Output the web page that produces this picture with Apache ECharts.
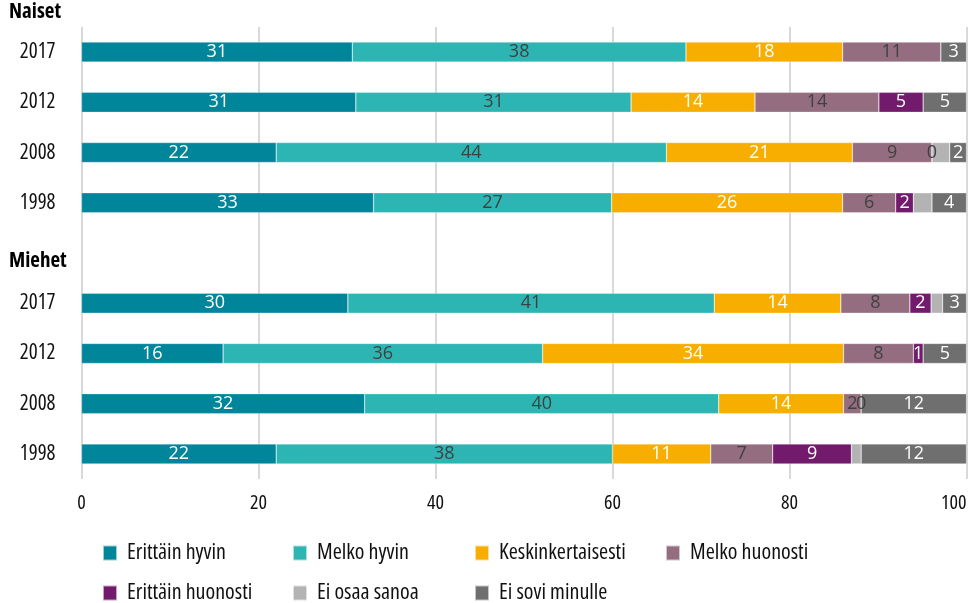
<!DOCTYPE html>
<html>
<head>
<meta charset="utf-8">
<script src="https://cdn.jsdelivr.net/npm/echarts@6/dist/echarts.min.js"></script>
<style>
    html, body { margin: 0; padding: 0; background: #fff; }
    .chart { width: 974px; height: 603px; }
</style>
</head>
<body>
<div class="chart"></div>
<script>
// vuodet, ryhmät (Naiset ylhäällä, tyhjä rivi, Miehet alhaalla)
var years = ['2017', '2012', '2008', '1998'];
var groups = ['Naiset', 'Miehet'];

// osuudet % (Naiset 2017..1998, Miehet 2017..1998)
var erittainHyvin = [30.6, 31.0, 22.0, 33.0, 30.1, 16.0, 32.0, 22.0];
var melkoHyvin = [37.7, 31.1, 44.1, 26.9, 41.4, 36.1, 40.0, 38.0];
var keskinkertaisesti = [17.7, 14.0, 21.0, 26.1, 14.3, 34.0, 14.1, 11.1];
var melkoHuonosti = [11.1, 14.0, 9.0, 6.0, 7.8, 7.9, 2.0, 7.0];
var erittainHuonosti = [null, 5.0, 0, 2.0, 2.4, 1.1, 0, 8.9];
var eiOsaaSanoa = [null, null, 2.0, 2.1, 1.3, null, null, 1.1];
var eiSoviMinulle = [2.9, 4.9, 1.9, 3.9, 2.7, 4.9, 11.9, 11.9];

var xTicks = [0, 20, 40, 60, 80, 100];

// tyhjä rivi ryhmien väliin
function withGap(arr) {
    return arr.slice(0, 4).concat([null]).concat(arr.slice(4));
}
var categories = years.concat(['']).concat(years);

// kapea fontti (Open Sans condensed)
var fontNarrow = '"Open Sans", sans-serif';
var fontLabel = '"Open Sans", sans-serif';

var myChart = echarts.init(document.querySelector('.chart'));

function makeSeries(name, arr, color, labelColor, showLabel) {
    return {
        name: name,
        type: 'bar',
        stack: 'total',
        barWidth: 20,
        itemStyle: { color: color, borderColor: 'rgba(255,255,255,0.6)', borderWidth: 0.5 },
        label: {
            show: showLabel,
            position: 'inside',
            color: labelColor,
            fontFamily: fontLabel,
            fontSize: 18,
            formatter: function (p) { return Math.round(p.value); }
        },
        // nolla-arvot näytetään tummalla
        data: withGap(arr).map(function (v) {
            if (v === 0) {
                return { value: 0, label: { color: '#404040' } };
            }
            return v;
        })
    };
}

// selitteet kahdessa rivissä
var legendNames = ['Erittäin hyvin', 'Melko hyvin', 'Keskinkertaisesti', 'Melko huonosti',
    'Erittäin huonosti', 'Ei osaa sanoa', 'Ei sovi minulle'];
var legendLeft = [102, 292, 474, 665];
var legends = legendNames.map(function (n, i) {
    return {
        data: [n],
        left: legendLeft[i % 4],
        top: i < 4 ? 542 : 582,
        padding: 0,
        itemWidth: 14,
        itemHeight: 15,
        icon: 'rect',
        textStyle: {
            color: '#111',
            fontFamily: fontNarrow,
            fontWeight: 'normal condensed',
            fontSize: 22,
            padding: [0, 0, 0, 5]
        }
    };
});

var option = {
    animation: false,
    color: ['#00859b', '#2db5b3', '#f8ae00', '#946e80', '#721b6c', '#b3b3b3', '#6f6f6f'],
    grid: { left: 81.5, right: 7.5, top: 27, bottom: 124, outerBoundsMode: 'none' },
    legend: legends,
    xAxis: {
        type: 'value',
        min: 0,
        max: 100,
        interval: xTicks[1] - xTicks[0],
        axisLine: { show: false },
        axisTick: { show: false },
        splitLine: { lineStyle: { color: '#d9d9d9', width: 2 } },
        axisLabel: {
            color: '#111', fontFamily: fontNarrow, fontWeight: 'normal condensed',
            fontSize: 20, margin: 14, alignMaxLabel: 'right'
        }
    },
    yAxis: {
        type: 'category',
        inverse: true,
        data: categories,
        axisLine: { show: false },
        axisTick: { show: false },
        axisLabel: { color: '#111', fontFamily: fontNarrow, fontWeight: 'normal condensed', fontSize: 21, margin: 26 }
    },
    graphic: [
        { type: 'text', left: 9, top: 2, style: { text: groups[0], font: 'bold condensed 21px ' + fontNarrow, fill: '#000' } },
        { type: 'text', left: 9, top: 251, style: { text: groups[1], font: 'bold condensed 21px ' + fontNarrow, fill: '#000' } }
    ],
    series: [
        makeSeries('Erittäin hyvin', erittainHyvin, '#00859b', '#fff', true),
        makeSeries('Melko hyvin', melkoHyvin, '#2db5b3', '#404040', true),
        makeSeries('Keskinkertaisesti', keskinkertaisesti, '#f8ae00', '#fff', true),
        makeSeries('Melko huonosti', melkoHuonosti, '#946e80', '#404040', true),
        makeSeries('Erittäin huonosti', erittainHuonosti, '#721b6c', '#fff', true),
        makeSeries('Ei osaa sanoa', eiOsaaSanoa, '#b3b3b3', '#404040', false),
        makeSeries('Ei sovi minulle', eiSoviMinulle, '#6f6f6f', '#fff', true)
    ]
};

myChart.setOption(option);

window.addEventListener('resize', function () {
    myChart.resize();
});
</script>
</body>
</html>
